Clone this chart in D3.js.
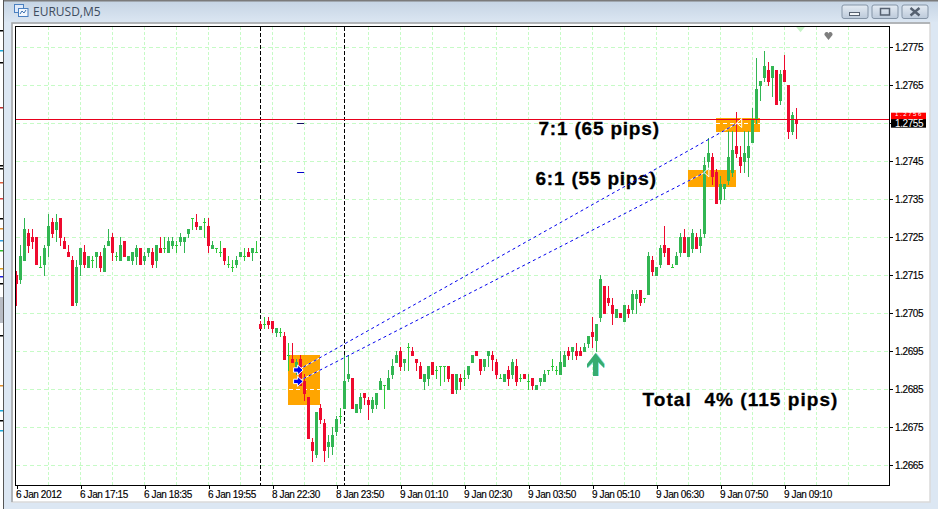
<!DOCTYPE html>
<html><head><meta charset="utf-8">
<script src="https://cdn.jsdelivr.net/npm/d3@7/dist/d3.min.js"></script>
<style>html,body{margin:0;padding:0;background:#dce7f3;overflow:hidden}svg{display:block}
.ax text{font-family:"Liberation Sans",Arial,sans-serif;font-size:10px;letter-spacing:-.4px;fill:#000;stroke:#000;stroke-width:.15px}
.big{font-family:"Liberation Sans",Arial,sans-serif;font-weight:700;font-size:19px;letter-spacing:.8px;white-space:pre;fill:#000;stroke:#000;stroke-width:.3px}
</style></head><body><script>
const opens=[
1.2715,1.2714,1.2719,1.2726,1.2725,1.2725,1.2717,1.2718,1.2723,1.2729,
1.2727,1.2730,1.2724,1.2721,1.2719,1.2708,1.2718,1.2721,1.2717,1.2719,
1.2720,1.2720,1.2716,1.2723,1.2725,1.2720,1.2719,1.2724,1.2719,1.2719,
1.2720,1.2722,1.2719,1.2721,1.2721,1.2719,1.2722,1.2722,1.2721,1.2723,
1.2723,1.2724,1.2724,1.2726,1.2730,1.2729,1.2727,1.2729,1.2728,1.2722,
1.2722,1.2721,1.2722,1.2718,1.2717,1.2718,1.2720,1.2720,1.2721,1.2721,
1.2721,1.2702,1.2702,1.2703,1.2703,1.2700,1.2700,1.2699,1.2694,1.2693,
1.2691,1.2693,1.2687,1.2683,1.2671,1.2668,1.2680,1.2676,1.2670,1.2670,
1.2674,1.2678,1.2680,1.2688,1.2688,1.2679,1.2680,1.2684,1.2682,1.2680,
1.2681,1.2685,1.2686,1.2685,1.2689,1.2692,1.2695,1.2692,1.2696,1.2695,
1.2693,1.2691,1.2687,1.2688,1.2692,1.2690,1.2691,1.2691,1.2691,1.2689,
1.2685,1.2688,1.2688,1.2689,1.2692,1.2695,1.2693,1.2691,1.2694,1.2694,
1.2692,1.2688,1.2687,1.2690,1.2689,1.2691,1.2688,1.2689,1.2687,1.2688,
1.2685,1.2687,1.2687,1.2690,1.2691,1.2690,1.2689,1.2691,1.2695,1.2695,
1.2695,1.2695,1.2695,1.2697,1.2700,1.2698,1.2704,1.2712,1.2709,1.2707,
1.2704,1.2705,1.2703,1.2706,1.2706,1.2709,1.2711,1.2709,1.2710,1.2719,
1.2715,1.2718,1.2723,1.2722,1.2717,1.2718,1.2721,1.2725,1.2720,1.2722,
1.2725,1.2723,1.2726,1.2745,1.2746,1.2742,1.2735,1.2738,1.2740,1.2742,
1.2749,1.2746,1.2745,1.2746,1.2750,1.2756,1.2765,1.2767,1.2769,1.2767,
1.2769,1.2761,1.2769,1.2765,1.2753,1.2756];
const highs=[
1.2716,1.2723,1.2730,1.2727,1.2727,1.2725,1.2720,1.2723,1.2731,1.2730,
1.2731,1.2730,1.2725,1.2723,1.2720,1.2719,1.2722,1.2723,1.2720,1.2720,
1.2721,1.2721,1.2723,1.2727,1.2726,1.2721,1.2725,1.2724,1.2720,1.2721,
1.2723,1.2722,1.2721,1.2722,1.2722,1.2723,1.2725,1.2725,1.2725,1.2725,
1.2724,1.2726,1.2725,1.2727,1.2730,1.2731,1.2728,1.2730,1.2730,1.2724,
1.2722,1.2724,1.2722,1.2720,1.2719,1.2720,1.2721,1.2722,1.2722,1.2722,
1.2724,1.2703,1.2704,1.2704,1.2703,1.2701,1.2701,1.2700,1.2697,1.2697,
1.2693,1.2694,1.2689,1.2683,1.2672,1.2679,1.2681,1.2677,1.2673,1.2675,
1.2678,1.2680,1.2694,1.2694,1.2688,1.2681,1.2684,1.2684,1.2683,1.2683,
1.2684,1.2688,1.2686,1.2690,1.2693,1.2695,1.2696,1.2693,1.2697,1.2696,
1.2693,1.2692,1.2689,1.2691,1.2692,1.2691,1.2691,1.2691,1.2691,1.2689,
1.2689,1.2689,1.2690,1.2691,1.2694,1.2695,1.2693,1.2693,1.2695,1.2695,
1.2693,1.2689,1.2689,1.2691,1.2693,1.2693,1.2689,1.2689,1.2689,1.2688,
1.2686,1.2688,1.2690,1.2690,1.2693,1.2691,1.2695,1.2695,1.2696,1.2696,
1.2697,1.2696,1.2697,1.2699,1.2704,1.2702,1.2715,1.2712,1.2712,1.2709,
1.2706,1.2705,1.2707,1.2707,1.2711,1.2711,1.2711,1.2709,1.2721,1.2720,
1.2717,1.2723,1.2728,1.2722,1.2718,1.2721,1.2726,1.2727,1.2725,1.2727,
1.2726,1.2727,1.2746,1.2751,1.2747,1.2743,1.2741,1.2739,1.2753,1.2753,
1.2758,1.2749,1.2753,1.2753,1.2759,1.2772,1.2766,1.2774,1.2771,1.2770,
1.2769,1.2769,1.2773,1.2765,1.2758,1.2759];
const lows=[
1.2707,1.2713,1.2719,1.2721,1.2722,1.2718,1.2717,1.2715,1.2720,1.2725,
1.2724,1.2723,1.2722,1.2720,1.2707,1.2707,1.2715,1.2717,1.2717,1.2717,
1.2717,1.2716,1.2716,1.2723,1.2719,1.2719,1.2719,1.2720,1.2719,1.2718,
1.2718,1.2718,1.2718,1.2720,1.2717,1.2717,1.2721,1.2721,1.2721,1.2722,
1.2721,1.2723,1.2721,1.2725,1.2727,1.2727,1.2727,1.2725,1.2721,1.2722,
1.2721,1.2720,1.2718,1.2717,1.2716,1.2717,1.2720,1.2719,1.2720,1.2719,
1.2721,1.2701,1.2701,1.2701,1.2700,1.2699,1.2699,1.2693,1.2690,1.2692,
1.2689,1.2686,1.2682,1.2672,1.2666,1.2667,1.2676,1.2666,1.2667,1.2668,
1.2673,1.2676,1.2680,1.2687,1.2680,1.2679,1.2679,1.2681,1.2677,1.2679,
1.2680,1.2685,1.2680,1.2685,1.2688,1.2692,1.2690,1.2690,1.2690,1.2694,
1.2690,1.2688,1.2685,1.2686,1.2689,1.2688,1.2686,1.2687,1.2687,1.2684,
1.2684,1.2685,1.2686,1.2688,1.2692,1.2694,1.2689,1.2690,1.2691,1.2690,
1.2688,1.2688,1.2687,1.2686,1.2688,1.2686,1.2687,1.2688,1.2685,1.2685,
1.2685,1.2686,1.2687,1.2689,1.2690,1.2689,1.2689,1.2691,1.2693,1.2693,
1.2693,1.2694,1.2695,1.2696,1.2696,1.2695,1.2703,1.2705,1.2707,1.2702,
1.2704,1.2704,1.2703,1.2704,1.2705,1.2705,1.2707,1.2708,1.2710,1.2715,
1.2715,1.2717,1.2720,1.2718,1.2717,1.2718,1.2720,1.2721,1.2720,1.2721,
1.2722,1.2721,1.2725,1.2743,1.2739,1.2734,1.2734,1.2735,1.2739,1.2741,
1.2746,1.2742,1.2742,1.2741,1.2750,1.2755,1.2761,1.2766,1.2765,1.2762,
1.2760,1.2760,1.2766,1.2751,1.2752,1.2751];
const closes=[
1.2713,1.2720,1.2727,1.2723,1.2724,1.2718,1.2717,1.2722,1.2728,1.2726,
1.2729,1.2725,1.2722,1.2720,1.2707,1.2717,1.2722,1.2718,1.2720,1.2719,
1.2721,1.2717,1.2722,1.2724,1.2721,1.2720,1.2723,1.2720,1.2720,1.2721,
1.2722,1.2718,1.2720,1.2722,1.2718,1.2723,1.2721,1.2722,1.2724,1.2724,
1.2723,1.2725,1.2725,1.2727,1.2730,1.2728,1.2728,1.2729,1.2723,1.2723,
1.2722,1.2721,1.2719,1.2718,1.2717,1.2719,1.2721,1.2720,1.2720,1.2722,
1.2721,1.2701,1.2702,1.2702,1.2701,1.2701,1.2700,1.2693,1.2694,1.2692,
1.2692,1.2686,1.2684,1.2672,1.2669,1.2679,1.2677,1.2669,1.2671,1.2673,
1.2677,1.2678,1.2687,1.2689,1.2680,1.2681,1.2683,1.2683,1.2681,1.2682,
1.2684,1.2687,1.2686,1.2688,1.2691,1.2694,1.2691,1.2693,1.2696,1.2694,
1.2692,1.2688,1.2689,1.2691,1.2689,1.2690,1.2691,1.2691,1.2688,1.2684,
1.2689,1.2687,1.2688,1.2691,1.2694,1.2694,1.2690,1.2693,1.2695,1.2693,
1.2689,1.2688,1.2689,1.2688,1.2692,1.2687,1.2688,1.2688,1.2687,1.2686,
1.2686,1.2688,1.2689,1.2690,1.2691,1.2690,1.2692,1.2694,1.2694,1.2696,
1.2694,1.2694,1.2696,1.2699,1.2699,1.2702,1.2714,1.2705,1.2708,1.2705,
1.2706,1.2704,1.2707,1.2705,1.2710,1.2710,1.2708,1.2709,1.2720,1.2716,
1.2717,1.2722,1.2721,1.2718,1.2717,1.2720,1.2725,1.2721,1.2725,1.2726,
1.2722,1.2725,1.2744,1.2747,1.2741,1.2734,1.2739,1.2739,1.2746,1.2748,
1.2747,1.2744,1.2747,1.2749,1.2756,1.2764,1.2766,1.2770,1.2766,1.2770,
1.2760,1.2768,1.2766,1.2753,1.2757,1.2755];

const priceTicks=[1.2775,1.2765,1.2755,1.2745,1.2735,1.2725,1.2715,1.2705,1.2695,1.2685,1.2675,1.2665];
const timeLabels=["6 Jan 2012","6 Jan 17:15","6 Jan 18:35","6 Jan 19:55","8 Jan 22:30","8 Jan 23:50","9 Jan 01:10","9 Jan 02:30","9 Jan 03:50","9 Jan 05:10","9 Jan 06:30","9 Jan 07:50","9 Jan 09:10"];
const sessionBreaks=[61,82];
const bidPrice=1.2755, askPrice=1.2756;
const trades=[{from:70.4,to:180.3,entry:1.2690,target:1.2755},{from:70.4,to:172.1,entry:1.2687,target:1.2742}];
const zones=[{a:67.875,b:75.875,hi:1.26940,lo:1.26808},{a:167.875,b:179.875,hi:1.27426,lo:1.27382},{a:174.875,b:185.875,hi:1.27563,lo:1.27526}];
const notes=[{i:130.5,p:1.27518,t:"7:1 (65 pips)"},{i:129.75,p:1.27387,t:"6:1 (55 pips)"},{i:156.5,p:1.26805,t:"Total  4% (115 pips)"}];
const W=938,H=509;
const x=d3.scaleLinear().domain([0,1]).range([16.5,20.5]);
const y=d3.scaleLinear().domain([1.2775,1.2665]).range([47,465]);
const svg=d3.select("body").append("svg").attr("width",W).attr("height",H).attr("viewBox",`0 0 ${W} ${H}`);
const defs=svg.append("defs");
const tg=defs.append("linearGradient").attr("id","tb").attr("x2",0).attr("y2",1);
tg.append("stop").attr("offset",0).attr("stop-color","#c4d3e3");tg.append("stop").attr("offset",1).attr("stop-color","#dbe6f2");
const bg=defs.append("linearGradient").attr("id","btn").attr("x2",0).attr("y2",1);
bg.append("stop").attr("offset",0).attr("stop-color","#e4ebf3");bg.append("stop").attr("offset",1).attr("stop-color","#bccada");
// window chrome
svg.append("rect").attr("width",W).attr("height",H).attr("fill","#dce7f3");
svg.append("rect").attr("width",W).attr("height",22).attr("fill","url(#tb)");
svg.append("rect").attr("width",W).attr("height",1.5).attr("fill","#7b7b7b");
svg.append("rect").attr("x",0).attr("width",3).attr("height",H).attr("fill","#fff");
svg.append("rect").attr("x",3).attr("width",1).attr("height",H).attr("fill","#555");
const leftBits=[[30,"#000"],[50,"#19a8d8"],[62,"#000"],[107,"#c03030"],[165,"#000"],[168,"#000"],[182,"#e06040"],[198,"#e04040"],[218,"#000"],[228,"#e09030"],[240,"#30a0e0"],[250,"#30c030"],[268,"#e0a020"],[276,"#2020e0"],[283,"#000"],[335,"#000"],[385,"#e09030"],[410,"#19a8d8"],[420,"#000"],[430,"#19a8d8"]];
svg.append("g").selectAll("rect").data(leftBits).join("rect").attr("x",0).attr("y",d=>d[0]).attr("width",3).attr("height",1.5).attr("fill",d=>d[1]);
svg.append("rect").attr("x",0).attr("y",297).attr("width",3).attr("height",26).attr("fill","#b8bcc4");
svg.append("rect").attr("x",12).attr("y",23).attr("width",918).attr("height",479).attr("fill","#fff").attr("stroke","#dadada").attr("stroke-width",1.5);
svg.append("path").attr("d","M12 502V23H930").attr("fill","none").attr("stroke","#a2a6aa").attr("stroke-width",1.5);
// title
const ic=svg.append("g").attr("fill","none");
ic.append("rect").attr("x",14.5).attr("y",4.5).attr("width",9).attr("height",8).attr("fill","#dfeafa").attr("stroke","#4a80c0");
ic.append("rect").attr("x",18.5).attr("y",8.5).attr("width",9.5).attr("height",8).attr("fill","#f2f7fd").attr("stroke","#4a80c0");
ic.append("path").attr("d","M20 14l2-3 2 2 2-3").attr("stroke","#3a70b0");
svg.append("text").attr("x",33).attr("y",16).attr("font-family","'Open Sans',sans-serif").attr("font-size",12).attr("fill","#3e4c5e").text("EURUSD,M5");
const btnX=[842,872,902];
svg.append("g").selectAll("rect").data(btnX).join("rect").attr("x",d=>d).attr("y",5).attr("width",26).attr("height",13.5).attr("rx",2).attr("fill","url(#btn)").attr("stroke","#8494a6");
svg.append("rect").attr("x",849.5).attr("y",12.5).attr("width",10).attr("height",3).attr("fill","#f2f5f8").attr("stroke","#566170");
svg.append("rect").attr("x",880.5).attr("y",8.5).attr("width",9).attr("height",6.5).attr("fill","none").attr("stroke","#566170").attr("stroke-width",1.5);
svg.append("path").attr("d","M910.5 8L919.5 15.5M919.5 8L910.5 15.5").attr("stroke","#566170").attr("stroke-width",2.4).attr("fill","none");
// clip
defs.append("clipPath").attr("id","plot").append("rect").attr("x",16).attr("y",27).attr("width",873).attr("height",458);
const cz=defs.append("clipPath").attr("id","zones");
const zoneRect=s=>s.attr("x",d=>x(d.a)).attr("y",d=>y(d.hi)).attr("width",d=>x(d.b)-x(d.a)).attr("height",d=>y(d.lo)-y(d.hi));
cz.selectAll("rect").data(zones).join("rect").call(zoneRect);
const plot=svg.append("g").attr("clip-path","url(#plot)").style("shape-rendering","crispEdges");
// grid
const gridC="#c6fbc6";
const gridIdx=d3.range(8,216,8);
plot.append("g").selectAll("line").data(gridIdx).join("line").attr("x1",d=>x(d)).attr("x2",d=>x(d)).attr("y1",27).attr("y2",485).attr("stroke",gridC).attr("stroke-dasharray","3 2");
plot.append("g").selectAll("line").data(priceTicks).join("line").attr("x1",16).attr("x2",889).attr("y1",d=>Math.round(y(d))+.5).attr("y2",d=>Math.round(y(d))+.5).attr("stroke",gridC).attr("stroke-dasharray","4 3");
plot.append("g").selectAll("rect").data(zones).join("rect").call(zoneRect).attr("fill","#ffa500");
plot.append("g").attr("clip-path","url(#zones)").selectAll("line").data(priceTicks).join("line").attr("x1",16).attr("x2",889).attr("y1",d=>Math.round(y(d))+.5).attr("y2",d=>Math.round(y(d))+.5).attr("stroke","#fff").attr("stroke-dasharray","4 3");
// session breaks
plot.append("g").selectAll("line").data(sessionBreaks).join("line").attr("x1",d=>x(d)).attr("x2",d=>x(d)).attr("y1",27).attr("y2",485).attr("stroke","#000").attr("stroke-dasharray","4 2");
// candles
const GREEN="#32b653",LIME="#2fc93a",RED="#ee0a2e";
const bars=opens.map((o,i)=>({i,o,h:highs[i],l:lows[i],c:closes[i]}));
const col=d=>d.c===d.o?LIME:(d.c>d.o?GREEN:RED);
const cg=plot.append("g");
cg.selectAll(".w").data(bars).join("rect").attr("class","w").attr("x",d=>x(d.i)-.5).attr("width",1)
  .attr("y",d=>Math.round(y(d.h))).attr("height",d=>Math.round(y(d.l))-Math.round(y(d.h))+1).attr("fill",col);
cg.selectAll(".b").data(bars).join("rect").attr("class","b").attr("x",d=>x(d.i)-1.5).attr("width",3)
  .attr("y",d=>Math.round(y(Math.max(d.o,d.c)))).attr("height",d=>Math.round(y(Math.min(d.o,d.c)))-Math.round(y(Math.max(d.o,d.c)))+1).attr("fill",col);
// bid line
plot.append("line").attr("x1",16).attr("x2",889).attr("y1",Math.round(y(askPrice))+.5).attr("y2",Math.round(y(askPrice))+.5).attr("stroke","#e8001c");
// notes
svg.append("g").selectAll("text").data(notes).join("text").attr("class","big").attr("x",d=>x(d.i)).attr("y",d=>y(d.p)).style("letter-spacing",(d,i)=>i===2?"1.05px":null).text(d=>d.t);
// trades
const tgr=svg.append("g");
tgr.append("g").attr("clip-path","url(#zones)").selectAll("line").data(trades).join("line").attr("x1",d=>x(d.from)).attr("x2",d=>x(d.to)).attr("y1",d=>y(d.entry)).attr("y2",d=>y(d.target)).attr("stroke","#fff");
tgr.append("g").selectAll("line").data(trades).join("line").attr("x1",d=>x(d.from)).attr("x2",d=>x(d.to)).attr("y1",d=>y(d.entry)).attr("y2",d=>y(d.target)).attr("stroke","#0000ee").attr("stroke-dasharray","3 3");
tgr.append("g").selectAll("path").data(trades).join("path").attr("transform",d=>`translate(${x(d.from)},${y(d.entry)})`).attr("d","M5 0L-.5-5V-2.2H-4.5V2.2H-.5V5Z").attr("fill","#0000ee").attr("stroke","#fff").attr("stroke-width",1);
tgr.append("g").selectAll("path").data(trades).join("path").attr("transform",d=>`translate(${x(d.to)},${y(d.target)})`).attr("d","M-1 0L4-4.5V4.5Z").attr("fill","none").attr("stroke","#fff").attr("stroke-width",1);
tgr.append("g").selectAll("line").data(trades).join("line").attr("x1",d=>x(d.from)-1).attr("x2",d=>x(d.from)+6).attr("y1",d=>Math.round(y(d.target))+.5).attr("y2",d=>Math.round(y(d.target))+.5).attr("stroke",(d,i)=>i?"#0000cc":"#101060");
// arrows & marks
const upArrow="M-8.5 11L0 0 8.5 11V15L2.5 9V23H-2.5V9L-8.5 15Z";
const ar=svg.append("g").attr("transform",`translate(${x(145)-1},${y(1.26945)})`);
ar.append("path").attr("d",upArrow).attr("transform","translate(1,0)").attr("fill","#86e4e4");
ar.append("path").attr("d",upArrow).attr("fill","#36ac70");
svg.append("path").attr("transform",`translate(${x(196)},${y(1.27803)})`).attr("d","M-4.5 0H4.5L0 5.5Z").attr("fill","#c6f3c6");
svg.append("path").attr("transform",`translate(${x(203)},${y(1.2778)})`).attr("d","M0 4.5L-4-.5C-4.8-3.5-1-5 0-2.2 1-5 4.8-3.5 4-.5Z").attr("fill","#7e7e7e");
// frame and axes
svg.append("rect").attr("x",15.5).attr("y",26.5).attr("width",873.5).attr("height",458.5).attr("fill","none").attr("stroke","#000").style("shape-rendering","crispEdges");
const ay=d3.axisRight(y).tickValues(priceTicks).tickFormat(d=>d===bidPrice?"":d3.format(".4f")(d)).tickSize(4).tickPadding(2);
const gy=svg.append("g").attr("class","ax").attr("transform","translate(889,0)").call(ay);
gy.select(".domain").remove();gy.selectAll("line").attr("stroke","#000").style("shape-rendering","crispEdges");
const ax=d3.axisBottom(x).tickValues(timeLabels.map((_,i)=>i*16)).tickFormat((d,i)=>timeLabels[i]).tickSize(4).tickPadding(2);
const gx=svg.append("g").attr("class","ax").attr("transform","translate(0,485)").call(ax);
gx.select(".domain").remove();gx.selectAll("line").attr("stroke","#000").style("shape-rendering","crispEdges");
gx.selectAll("text").attr("text-anchor","start").attr("x",-1);
// price tags: the ask tag sits above the bid tag
const tagFont="'Liberation Sans',Arial,sans-serif";
const tagA=svg.append("g");
tagA.append("rect").attr("x",891).attr("y",y(askPrice)-6.5).attr("width",35).attr("height",7.5).attr("fill","#f00");
tagA.append("text").attr("x",895).attr("y",y(askPrice)-2.8).attr("font-family",tagFont).attr("font-size",6).attr("letter-spacing","1.6px").attr("fill","#fff").text(d3.format(".4f")(askPrice));
tagA.append("rect").attr("x",891).attr("y",y(askPrice)).attr("width",35).attr("height",8.5).attr("fill","#000");
svg.append("text").attr("x",895).attr("y",y(bidPrice)+4).attr("font-family",tagFont).attr("font-size",10).attr("letter-spacing","-.4px").attr("fill","#fff").text(d3.format(".4f")(bidPrice));
</script></body></html>
